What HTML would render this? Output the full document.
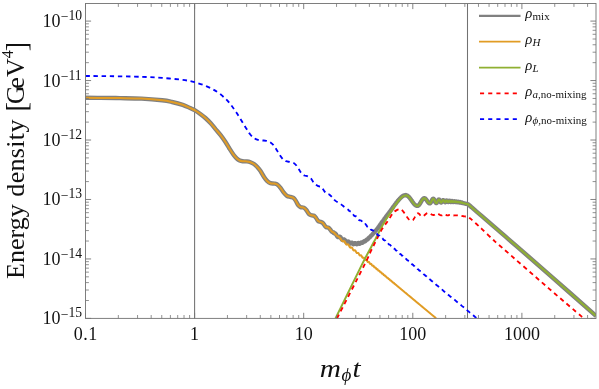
<!DOCTYPE html>
<html>
<head>
<meta charset="utf-8">
<title>Energy density</title>
<style>
html,body{margin:0;padding:0;background:#fff;}
body{width:599px;height:389px;overflow:hidden;font-family:"Liberation Serif",serif;}
svg{display:block;will-change:transform;}
text{font-family:"Liberation Serif",serif;fill:#111;}
.tk{font-size:18px;}
.sup{font-size:13.6px;}
.it{font-style:italic;}
.lg{font-size:14.6px;font-style:italic;}
.sb{font-size:11px;font-style:normal;}
.sbi{font-size:11px;font-style:italic;}
</style>
</head>
<body>
<svg width="599" height="389" viewBox="0 0 599 389">
<rect x="0" y="0" width="599" height="389" fill="#ffffff"/>
<defs><clipPath id="cp"><rect x="85.5" y="3.5" width="510.5" height="314.9"/></clipPath></defs>

<!-- vertical marker lines -->
<path d="M194.60 3.5V318.4M467.50 3.5V318.4" stroke="#727272" stroke-width="1.05" fill="none"/>

<!-- curves -->
<g clip-path="url(#cp)" fill="none" stroke-linejoin="round">
<path d="M85.50 97.80C87.92 97.82 94.25 97.85 100.00 97.90C105.75 97.95 113.07 97.98 120.00 98.10C126.93 98.22 134.57 98.23 141.60 98.60C148.63 98.97 157.13 99.73 162.20 100.30C167.27 100.87 168.58 101.25 172.00 102.00C175.42 102.75 179.70 103.80 182.70 104.80C185.70 105.80 188.02 107.12 190.00 108.00C191.98 108.88 192.88 109.12 194.60 110.10C196.32 111.08 198.50 112.58 200.30 113.90C202.10 115.22 203.70 116.47 205.40 118.00C207.10 119.53 208.78 121.22 210.50 123.10C212.22 124.98 213.98 127.25 215.70 129.30C217.42 131.35 219.20 133.32 220.80 135.40C222.40 137.48 223.87 139.62 225.30 141.80C226.73 143.98 228.03 146.35 229.40 148.50C230.77 150.65 232.30 153.07 233.50 154.70C234.70 156.33 235.57 157.33 236.60 158.30C237.63 159.27 238.68 160.00 239.70 160.50C240.72 161.00 241.50 161.15 242.70 161.30C243.90 161.45 245.62 161.25 246.90 161.40C248.18 161.55 249.22 161.77 250.40 162.20C251.58 162.63 252.82 163.17 254.00 164.00C255.18 164.83 256.42 166.03 257.50 167.20C258.58 168.37 259.38 169.32 260.50 171.00C261.62 172.68 263.07 175.60 264.20 177.30C265.33 179.00 266.27 180.22 267.30 181.20C268.33 182.18 269.20 182.80 270.40 183.20C271.60 183.60 273.30 183.35 274.50 183.60C275.70 183.85 276.57 183.95 277.60 184.70C278.63 185.45 279.67 186.77 280.70 188.10C281.73 189.43 282.77 191.42 283.80 192.70C284.83 193.98 285.80 195.10 286.90 195.80C288.00 196.50 289.33 196.57 290.40 196.90C291.47 197.23 292.42 197.18 293.30 197.80C294.18 198.42 294.88 199.37 295.70 200.60C296.52 201.83 297.37 204.10 298.20 205.20C299.03 206.30 299.78 206.80 300.70 207.20C301.62 207.60 302.77 207.13 303.70 207.60C304.63 208.07 305.43 208.95 306.30 210.00C307.17 211.05 308.05 213.02 308.90 213.90C309.75 214.78 310.55 215.00 311.40 215.30C312.25 215.60 313.22 215.25 314.00 215.70C314.78 216.15 315.42 217.12 316.10 218.00C316.78 218.88 317.33 220.35 318.10 221.00C318.87 221.65 319.93 221.60 320.70 221.90C321.47 222.20 322.02 222.17 322.70 222.80C323.38 223.43 324.20 224.97 324.80 225.70C325.40 226.43 325.70 226.88 326.30 227.20C326.90 227.52 327.72 227.17 328.40 227.60C329.08 228.03 329.80 229.10 330.40 229.80C331.00 230.50 331.48 231.37 332.00 231.80C332.52 232.23 333.25 232.30 333.50 232.40L333.50 232.94L333.53 232.95L333.57 232.97L333.60 232.99L333.63 233.01L333.67 233.03L333.70 233.06L333.74 233.08L333.78 233.11L333.82 233.13L333.87 233.16L333.92 233.18L333.97 233.20L334.03 233.22L334.10 233.24L334.17 233.25L334.24 233.27L334.32 233.28L334.41 233.29L334.50 233.30L334.61 233.31L334.72 233.33L334.84 233.35L334.96 233.39L335.10 233.44L335.25 233.53L335.41 233.64L335.58 233.80L335.76 234.00L335.95 234.25L336.15 234.55L336.36 234.89L336.57 235.26L336.79 235.64L337.02 236.01L337.25 236.36L337.48 236.65L337.72 236.88L337.96 237.02L338.20 237.09L338.44 237.09L338.68 237.02L338.92 236.93L339.16 236.83L339.40 236.75L339.63 236.72L339.86 236.75L340.08 236.86L340.30 237.03L340.51 237.28L340.73 237.58L340.94 237.93L341.16 238.31L341.37 238.69L341.58 239.05L341.79 239.38L342.01 239.64L342.22 239.84L342.43 239.96L342.64 240.00L342.86 239.97L343.07 239.89L343.28 239.77L343.49 239.65L343.70 239.54L343.92 239.47L344.13 239.46L344.34 239.53L344.55 239.68L344.76 239.91L344.98 240.21L345.19 240.56L345.40 240.93L345.61 241.30L345.82 241.64L346.04 241.91L346.25 242.11L346.46 242.22L346.67 242.23L346.88 242.16L347.10 242.02L347.31 241.85L347.52 241.67L347.73 241.51L347.94 241.42L348.16 241.41L348.37 241.50L348.58 241.68L348.79 241.94L349.01 242.27L349.22 242.62L349.43 242.97L349.64 243.27L349.86 243.49L350.07 243.62L350.29 243.64L350.50 243.56L350.71 243.40L350.93 243.19L351.15 242.97L351.36 242.78L351.58 242.66L351.80 242.62L352.01 242.69L352.23 242.85L352.45 243.10L352.66 243.39L352.88 243.69L353.10 243.95L353.32 244.14L353.54 244.22L353.75 244.19L353.97 244.07L354.19 243.87L354.40 243.63L354.62 243.40L354.84 243.21L355.05 243.11L355.27 243.11L355.49 243.21L355.70 243.39L355.91 243.62L356.13 243.86L356.34 244.06L356.55 244.19L356.77 244.23L356.98 244.16L357.19 244.00L357.40 243.78L357.62 243.54L357.83 243.31L358.04 243.14L358.25 243.05L358.46 243.06L358.67 243.16L358.88 243.31L359.10 243.49L359.31 243.65L359.52 243.75L359.73 243.76L359.95 243.67L360.16 243.48L360.37 243.24L360.59 242.97L360.80 242.72L361.01 242.53L361.23 242.44L361.45 242.43L361.66 242.50L361.88 242.61L362.10 242.71L362.31 242.77L362.53 242.73L362.75 242.60L362.96 242.38L363.18 242.10L363.40 241.82L363.62 241.56L363.84 241.38L364.05 241.28L364.27 241.27L364.49 241.30L364.70 241.34L364.92 241.34L365.14 241.28L365.35 241.12L365.57 240.88L365.79 240.59L366.00 240.30L366.21 240.03L366.43 239.82L366.64 239.69L366.85 239.61L367.06 239.58L367.27 239.54L367.48 239.46L367.69 239.31L367.90 239.09L368.11 238.82L368.32 238.51L368.53 238.21L368.74 237.94L368.95 237.73L369.16 237.58L369.37 237.47L369.59 237.36L369.80 237.24L370.01 237.07L370.23 236.83L370.44 236.55L370.66 236.24L370.88 235.94L371.10 235.67L371.32 235.44L371.55 235.26L371.78 235.10L372.02 234.91L372.26 234.69L372.50 234.41L372.74 234.09L372.98 233.76L373.23 233.45L373.47 233.18L373.71 232.94L373.96 232.70L374.20 232.43L374.44 232.15L374.67 231.88L374.91 231.61L375.14 231.34L375.36 231.07L375.58 230.81L375.80 230.56L376.01 230.31L376.21 230.07L376.41 229.83L376.60 229.60L376.78 229.38L376.96 229.16L377.13 228.95L377.29 228.74L377.45 228.53L377.60 228.33L377.75 228.14L377.90 227.94L378.04 227.75L378.18 227.56L378.31 227.37L378.44 227.19L378.57 227.00L378.70 226.82L378.83 226.64L378.96 226.46L379.09 226.28L379.21 226.10L379.34 225.92L379.47 225.74L379.60 225.55L379.73 225.37L379.86 225.19L380.00 225.00L380.14 224.81L380.27 224.63L380.40 224.45L380.54 224.27L380.67 224.09L380.80 223.91L380.93 223.73L381.06 223.55L381.18 223.37L381.31 223.20L381.44 223.02L381.57 222.84L381.70 222.67L381.83 222.49L381.96 222.31L382.09 222.13L382.22 221.94L382.36 221.76L382.49 221.57L382.63 221.38L382.77 221.19L382.91 221.00L383.05 220.80L383.20 220.60L383.35 220.40L383.50 220.19L383.66 219.98L383.81 219.76L383.97 219.55L384.13 219.33L384.29 219.11L384.46 218.89L384.62 218.66L384.79 218.44L384.95 218.21L385.12 217.98L385.29 217.75L385.45 217.53L385.62 217.30L385.79 217.07L385.96 216.84L386.12 216.62L386.29 216.39L386.45 216.17L386.62 215.95L386.78 215.73L386.94 215.51L387.10 215.30L387.26 215.09L387.41 214.88L387.57 214.68L387.72 214.47L387.87 214.27L388.02 214.08L388.17 213.88L388.32 213.68L388.47 213.49L388.62 213.29L388.77 213.10L388.92 212.90L389.07 212.70L389.22 212.51L389.37 212.31L389.52 212.11L389.68 211.90L389.83 211.70L389.99 211.49L390.15 211.28L390.31 211.07L390.47 210.85L390.63 210.63L390.80 210.40L390.97 210.17L391.14 209.93L391.32 209.69L391.50 209.44L391.68 209.19L391.86 208.94L392.04 208.68L392.23 208.42L392.41 208.16L392.60 207.89L392.79 207.63L392.97 207.36L393.16 207.10L393.35 206.83L393.54 206.57L393.73 206.30L393.92 206.04L394.10 205.78L394.29 205.53L394.48 205.27L394.66 205.02L394.84 204.78L395.02 204.54L395.20 204.30L395.38 204.07L395.55 203.83L395.73 203.60L395.91 203.37L396.08 203.14L396.26 202.91L396.44 202.68L396.61 202.46L396.79 202.23L396.96 202.01L397.13 201.79L397.31 201.57L397.48 201.35L397.65 201.14L397.82 200.93L397.99 200.72L398.16 200.52L398.32 200.32L398.49 200.12L398.65 199.93L398.82 199.74L398.98 199.56L399.14 199.38L399.30 199.20L399.46 199.03L399.61 198.86L399.77 198.69L399.92 198.53L400.08 198.37L400.23 198.21L400.38 198.06L400.53 197.91L400.68 197.76L400.83 197.62L400.97 197.48L401.12 197.34L401.26 197.21L401.41 197.08L401.55 196.96L401.69 196.83L401.83 196.72L401.97 196.60L402.11 196.49L402.25 196.38L402.39 196.28L402.53 196.18L402.66 196.09L402.80 196.00L402.94 195.92L403.08 195.84L403.22 195.76L403.36 195.69L403.51 195.63L403.66 195.57L403.80 195.52L403.95 195.47L404.09 195.42L404.24 195.38L404.38 195.34L404.52 195.30L404.66 195.27L404.79 195.23L404.92 195.21L405.04 195.18L405.16 195.15L405.27 195.13L405.38 195.11L405.48 195.08L405.57 195.06L405.66 195.04L405.73 195.02L405.80 195.00L406.19 195.32L406.49 195.37L406.78 195.45L407.08 195.57L407.37 195.72L407.67 195.91L407.96 196.12L408.26 196.36L408.55 196.63L408.85 196.93L409.14 197.25L409.44 197.59L409.73 197.95L410.03 198.33L410.32 198.72L410.62 199.13L410.91 199.54L411.21 199.96L411.50 200.39L411.80 200.81L412.09 201.24L412.39 201.66L412.68 202.07L412.98 202.48L413.27 202.87L413.57 203.25L413.86 203.61L414.16 203.95L414.45 204.27L414.75 204.57L415.04 204.84L415.34 205.08L415.63 205.29L415.93 205.48L416.22 205.63L416.52 205.75L416.81 205.83L417.11 205.88L417.40 205.90L417.69 205.87L417.97 205.77L418.26 205.61L418.55 205.38L418.84 205.10L419.12 204.77L419.41 204.39L419.70 203.98L419.99 203.52L420.27 203.05L420.56 202.55L420.85 202.05L421.14 201.55L421.43 201.05L421.71 200.58L422.00 200.12L422.29 199.71L422.57 199.33L422.86 199.00L423.15 198.72L423.44 198.49L423.73 198.33L424.01 198.23L424.30 198.20L424.59 198.24L424.88 198.34L425.17 198.51L425.46 198.75L425.75 199.04L426.04 199.38L426.33 199.76L426.62 200.16L426.91 200.59L427.19 201.01L427.48 201.44L427.77 201.84L428.06 202.22L428.35 202.56L428.64 202.85L428.93 203.09L429.22 203.26L429.51 203.36L429.80 203.40L430.09 203.32L430.38 203.09L430.68 202.72L430.97 202.24L431.26 201.67L431.55 201.07L431.84 200.47L432.13 199.91L432.43 199.42L432.72 199.05L433.01 198.82L433.30 198.74L433.60 198.85L433.90 199.16L434.20 199.65L434.50 200.27L434.80 200.95L435.10 201.63L435.40 202.25L435.70 202.74L436.00 203.05L436.30 203.16L436.59 203.05L436.88 202.73L437.17 202.24L437.46 201.64L437.74 201.00L438.03 200.40L438.32 199.91L438.61 199.59L438.90 199.48L439.19 199.60L439.47 199.93L439.76 200.43L440.05 201.02L440.34 201.61L440.62 202.11L440.91 202.44L441.20 202.56L441.49 202.44L441.77 202.10L442.06 201.60L442.34 201.06L442.63 200.57L442.91 200.23L443.20 200.10L443.47 200.21L443.74 200.51L444.01 200.94L444.29 201.41L444.56 201.84L444.83 202.14L445.10 202.24L445.40 202.07L445.70 201.63L446.00 201.08L446.30 200.64L446.60 200.47L446.87 200.58L447.13 200.87L447.40 201.27L447.67 201.67L447.93 201.96L448.20 202.07L448.46 201.94L448.72 201.60L448.98 201.17L449.24 200.83L449.50 200.70L449.76 200.83L450.02 201.16L450.28 201.58L450.54 201.91L450.80 202.04L451.10 201.88L451.40 201.49L451.70 201.10L452.00 200.94L452.30 201.10L452.60 201.47L452.90 201.85L453.20 202.01L453.48 201.89L453.75 201.60L454.02 201.30L454.30 201.18L454.57 201.32L454.85 201.65L455.12 201.98L455.40 202.12L455.65 202.01L455.90 201.77L456.15 201.53L456.40 201.43L456.65 201.54L456.90 201.83L457.15 202.11L457.40 202.23L457.65 202.16L457.90 202.02L458.15 201.87L458.40 201.81L458.62 201.91L458.85 202.14L459.07 202.38L459.30 202.47L459.60 202.37L459.90 202.16L460.20 202.06L460.47 202.22L460.73 202.56L461.00 202.72L461.27 202.65L461.53 202.51L461.80 202.44L462.07 202.61L462.33 202.94L462.60 203.11L462.89 203.11L463.18 203.14L463.46 203.17L463.75 203.22L464.04 203.28L464.33 203.35L464.62 203.43L464.91 203.51L465.19 203.59L465.48 203.68L465.77 203.75L466.06 203.82L466.35 203.88L466.64 203.93L466.92 203.97L467.21 203.99L467.50 204.00C467.75 204.17 468.35 204.48 469.00 205.00C469.65 205.52 470.32 206.15 471.40 207.10C472.48 208.05 473.70 209.15 475.50 210.70C477.30 212.25 477.67 212.48 482.20 216.40C486.73 220.32 496.88 229.17 502.70 234.20C508.52 239.23 509.22 239.75 517.10 246.60C524.98 253.45 536.85 263.75 550.00 275.30C563.15 286.85 588.33 309.13 596.00 315.90" stroke="#808080" stroke-width="4.4"/>
<path d="M85.50 97.80C87.92 97.82 94.25 97.85 100.00 97.90C105.75 97.95 113.07 97.98 120.00 98.10C126.93 98.22 134.57 98.23 141.60 98.60C148.63 98.97 157.13 99.73 162.20 100.30C167.27 100.87 168.58 101.25 172.00 102.00C175.42 102.75 179.70 103.80 182.70 104.80C185.70 105.80 188.02 107.12 190.00 108.00C191.98 108.88 192.88 109.12 194.60 110.10C196.32 111.08 198.50 112.58 200.30 113.90C202.10 115.22 203.70 116.47 205.40 118.00C207.10 119.53 208.78 121.22 210.50 123.10C212.22 124.98 213.98 127.25 215.70 129.30C217.42 131.35 219.20 133.32 220.80 135.40C222.40 137.48 223.87 139.62 225.30 141.80C226.73 143.98 228.03 146.35 229.40 148.50C230.77 150.65 232.30 153.07 233.50 154.70C234.70 156.33 235.57 157.33 236.60 158.30C237.63 159.27 238.68 160.00 239.70 160.50C240.72 161.00 241.50 161.15 242.70 161.30C243.90 161.45 245.62 161.25 246.90 161.40C248.18 161.55 249.22 161.77 250.40 162.20C251.58 162.63 252.82 163.17 254.00 164.00C255.18 164.83 256.42 166.03 257.50 167.20C258.58 168.37 259.38 169.32 260.50 171.00C261.62 172.68 263.07 175.60 264.20 177.30C265.33 179.00 266.27 180.22 267.30 181.20C268.33 182.18 269.20 182.80 270.40 183.20C271.60 183.60 273.30 183.35 274.50 183.60C275.70 183.85 276.57 183.95 277.60 184.70C278.63 185.45 279.67 186.77 280.70 188.10C281.73 189.43 282.77 191.42 283.80 192.70C284.83 193.98 285.80 195.10 286.90 195.80C288.00 196.50 289.33 196.57 290.40 196.90C291.47 197.23 292.42 197.18 293.30 197.80C294.18 198.42 294.88 199.37 295.70 200.60C296.52 201.83 297.37 204.10 298.20 205.20C299.03 206.30 299.78 206.80 300.70 207.20C301.62 207.60 302.77 207.13 303.70 207.60C304.63 208.07 305.43 208.95 306.30 210.00C307.17 211.05 308.05 213.02 308.90 213.90C309.75 214.78 310.55 215.00 311.40 215.30C312.25 215.60 313.22 215.25 314.00 215.70C314.78 216.15 315.42 217.12 316.10 218.00C316.78 218.88 317.33 220.35 318.10 221.00C318.87 221.65 319.93 221.60 320.70 221.90C321.47 222.20 322.02 222.17 322.70 222.80C323.38 223.43 324.20 224.97 324.80 225.70C325.40 226.43 325.70 226.88 326.30 227.20C326.90 227.52 327.72 227.17 328.40 227.60C329.08 228.03 329.80 229.10 330.40 229.80C331.00 230.50 331.48 231.37 332.00 231.80C332.52 232.23 332.90 231.97 333.50 232.40C334.10 232.83 335.00 233.80 335.60 234.40C336.20 235.00 336.58 235.60 337.10 236.00C337.62 236.40 338.02 236.23 338.70 236.80C339.38 237.37 340.78 238.97 341.20 239.40L341.40 239.81L341.60 240.19L341.80 240.54L342.00 240.83L342.20 241.06L342.40 241.22L342.60 241.30L342.80 241.32L343.00 241.29L343.20 241.23L343.40 241.15L343.60 241.08L343.80 241.03L344.00 241.04L344.20 241.11L344.40 241.25L344.60 241.47L344.80 241.76L345.00 242.11L345.20 242.51L345.40 242.92L345.60 243.33L345.80 243.71L346.00 244.04L346.20 244.31L346.40 244.50L346.60 244.61L346.80 244.64L347.00 244.61L347.20 244.54L347.40 244.46L347.60 244.39L347.80 244.35L348.00 244.37L348.20 244.47L348.40 244.65L348.60 244.91L348.80 245.24L349.00 245.63L349.20 246.05L349.40 246.46L349.60 246.85L349.80 247.18L350.00 247.43L350.20 247.59L350.40 247.67L350.60 247.67L350.80 247.62L351.00 247.53L351.20 247.45L351.40 247.40L351.60 247.41L351.80 247.51L352.00 247.69L352.20 247.97L352.40 248.32L352.60 248.72L352.80 249.14L353.00 249.54L353.20 249.90L353.40 250.19L353.60 250.38L353.80 250.47L354.00 250.48L354.20 250.43L354.40 250.34L354.60 250.26L354.80 250.22L355.00 250.25L355.20 250.37L355.40 250.59L355.60 250.91L355.80 251.29L356.00 251.71L356.20 252.13L356.40 252.50L356.60 252.80L356.80 252.99L357.00 253.09L357.20 253.09L357.40 253.03L357.60 252.94L357.80 252.86L358.00 252.85L358.20 252.92L358.40 253.09L358.60 253.37L358.80 253.73L359.00 254.15L359.20 254.57L359.40 254.95L359.60 255.25L359.80 255.44L360.00 255.53L360.20 255.52L360.40 255.45L360.60 255.36L360.80 255.30L361.00 255.32L361.20 255.44L361.40 255.67L361.60 256.00L361.80 256.41L362.00 256.83L362.20 257.22L362.40 257.53L362.60 257.73L362.80 257.82L363.00 257.81L363.20 257.73L363.40 257.65L363.60 257.61L363.80 257.65L364.00 257.81L364.20 258.09L364.40 258.47L364.60 258.88L364.80 259.29L365.00 259.63L365.20 259.86L365.40 259.97L365.60 259.97L365.80 259.90L366.00 259.81L366.20 259.78L366.40 259.84L366.60 260.02L366.80 260.32L367.00 260.71L367.20 261.13L367.40 261.51L367.60 261.80L367.80 261.97L368.00 262.01L368.20 261.97L368.40 261.89L368.60 261.83L368.80 261.87L369.00 262.04L369.20 262.33L369.40 262.71L369.60 263.12L369.80 263.50L370.00 263.77L370.20 263.92L370.40 263.94L370.60 263.88L370.80 263.80L371.00 263.79L371.20 263.88L371.40 264.11L371.60 264.45L371.80 264.86L372.00 265.25L372.20 265.55L372.40 265.73L372.60 265.77L372.80 265.73L373.00 265.66L373.20 265.64L373.40 265.74L373.60 265.98L373.80 266.32L374.00 266.72L374.20 267.10L374.40 267.37L374.60 267.50L374.80 267.51L375.00 267.45L375.20 267.40L375.40 267.44L375.60 267.62L375.80 267.92L376.00 268.31L376.20 268.69L376.40 268.99L376.60 269.15L376.80 269.19L377.00 269.14L377.20 269.09L377.40 269.13L377.60 269.31L377.80 269.62L378.00 270.00L378.20 270.36L378.40 270.64L378.60 270.77L378.80 270.78L379.00 270.73L379.20 270.71L379.40 270.81L379.60 271.04L379.80 271.39L380.00 271.77L380.20 272.08L380.40 272.27L380.60 272.32L380.80 272.28L381.00 272.26L381.20 272.33L381.40 272.54L381.60 272.87L381.80 273.24L382.00 273.55L382.20 273.74L382.40 273.79L382.60 273.76L382.80 273.75L383.00 273.85L383.20 274.08L383.40 274.43L383.60 274.78L383.80 275.05L384.00 275.18L384.20 275.20L384.40 275.17L384.60 275.21L384.80 275.39L385.00 275.68L385.20 276.03L385.40 276.34L385.60 276.51L385.80 276.56L386.00 276.55L386.20 276.58L386.40 276.73L386.60 277.00L386.80 277.34L387.00 277.64L387.20 277.82L387.40 277.88L387.60 277.88L387.80 277.92L388.00 278.08L388.20 278.37L388.40 278.69L388.60 278.97L388.80 279.11L389.00 279.15L389.20 279.17L389.40 279.25L389.60 279.46L389.80 279.77L390.00 280.07L390.20 280.28L390.40 280.37L390.60 280.39L390.80 280.45L391.00 280.62L391.20 280.89L391.40 281.19L391.60 281.43L391.80 281.55L392.00 281.59L392.20 281.64L392.40 281.79L392.60 282.05L392.80 282.34L393.00 282.57L393.20 282.69L393.40 282.75L393.60 282.82L393.80 282.98L394.00 283.23L394.20 283.50L394.40 283.71L394.60 283.83L394.80 283.89L395.00 283.98L395.20 284.17L395.40 284.43L395.60 284.68L395.80 284.85L396.00 284.94L396.20 285.02L396.40 285.16L396.60 285.39L396.80 285.64L397.00 285.84L397.20 285.96L397.40 286.05L397.60 286.18L397.80 286.37L398.00 286.61L398.20 286.82L398.40 286.96L398.60 287.07L398.80 287.19L399.00 287.37L399.20 287.59L399.40 287.80L399.60 287.95L399.80 288.07L400.00 288.20L400.20 288.38L400.40 288.59L400.60 288.78L400.80 288.93L401.00 289.07L401.20 289.22L401.40 289.39L401.60 289.58L401.80 289.76L402.00 289.91L402.20 290.06L402.40 290.23L402.60 290.40L402.80 290.58L403.00 290.74L403.20 290.90L403.40 291.07L403.60 291.24L403.80 291.40L404.00 291.57L404.20 291.73L404.40 291.90L404.60 292.07L404.80 292.23L405.00 292.40L405.20 292.57L405.40 292.73L405.60 292.90L405.80 293.06L406.00 293.23L406.20 293.40L406.40 293.56L406.60 293.73L406.80 293.89L407.00 294.06L407.20 294.23L407.40 294.39L407.60 294.56L407.80 294.72L408.00 294.89L408.20 295.06L408.40 295.22L408.60 295.39L408.80 295.56L409.00 295.72L409.20 295.89L409.40 296.05L409.60 296.22L409.80 296.39L410.00 296.55L410.20 296.72L410.40 296.88L410.60 297.05L410.80 297.22L411.00 297.38L411.20 297.55L411.40 297.72L411.60 297.88L411.80 298.05L412.00 298.21L412.20 298.38L412.40 298.55L412.60 298.71L412.80 298.88L413.00 299.04L413.20 299.21L413.40 299.38L413.60 299.54L413.80 299.71L414.00 299.88L414.20 300.04L414.40 300.21L414.60 300.37L414.80 300.54L415.00 300.71L415.20 300.87L415.40 301.04L415.60 301.20L415.80 301.37L416.00 301.54L416.20 301.70L416.40 301.87L416.60 302.04L416.80 302.20L417.00 302.37L417.20 302.53L417.40 302.70L417.60 302.87L417.80 303.03L418.00 303.20L418.20 303.36L418.40 303.53L418.60 303.70L418.80 303.86L419.00 304.03L419.20 304.19L419.40 304.36L419.60 304.53L419.80 304.69L420.00 304.86L420.20 305.03L420.40 305.19L420.60 305.36L420.80 305.52L421.00 305.69L421.20 305.86L421.40 306.02L421.60 306.19L421.80 306.35L422.00 306.52L422.20 306.69L422.40 306.85L422.60 307.02L422.80 307.19L423.00 307.35L423.20 307.52L423.40 307.68L423.60 307.85L423.80 308.02L424.00 308.18L424.20 308.35L424.40 308.51L424.60 308.68L424.80 308.85L425.00 309.01L425.20 309.18L425.40 309.35L425.60 309.51L425.80 309.68L426.00 309.84L426.20 310.01L426.40 310.18L426.60 310.34L426.80 310.51L427.00 310.67L427.20 310.84L427.40 311.01L427.60 311.17L427.80 311.34L428.00 311.51L428.20 311.67L428.40 311.84L428.60 312.00L428.80 312.17L429.00 312.34L429.20 312.50L429.40 312.67L429.60 312.83L429.80 313.00L430.00 313.17L430.20 313.33L430.40 313.50L430.60 313.66L430.80 313.83L431.00 314.00L431.20 314.16L431.40 314.33L431.60 314.50L431.80 314.66L432.00 314.83L432.20 314.99L432.40 315.16L432.60 315.33L432.80 315.49L433.00 315.66L433.20 315.82L433.40 315.99L433.60 316.16L433.80 316.32L434.00 316.49L434.20 316.66L434.40 316.82L434.60 316.99L434.80 317.15L435.00 317.32L435.20 317.49L435.40 317.65L435.60 317.82L435.80 317.98L436.00 318.15L436.20 318.32" stroke="#E19C24" stroke-width="2.0"/>
<path d="M335.50 318.40C339.88 309.48 355.87 276.77 361.80 264.90C367.73 253.03 368.70 251.75 371.10 247.20C373.50 242.65 374.68 240.53 376.20 237.60C377.72 234.67 378.60 232.57 380.20 229.60C381.80 226.63 384.00 222.80 385.80 219.80C387.60 216.80 389.28 214.25 391.00 211.60C392.72 208.95 394.57 206.05 396.10 203.90C397.63 201.75 399.00 199.98 400.20 198.70C401.40 197.42 402.35 196.77 403.30 196.20C404.25 195.63 405.47 195.45 405.90 195.30L406.19 195.32L406.49 195.37L406.78 195.45L407.08 195.57L407.37 195.72L407.67 195.91L407.96 196.12L408.26 196.36L408.55 196.63L408.85 196.93L409.14 197.25L409.44 197.59L409.73 197.95L410.03 198.33L410.32 198.72L410.62 199.13L410.91 199.54L411.21 199.96L411.50 200.39L411.80 200.81L412.09 201.24L412.39 201.66L412.68 202.07L412.98 202.48L413.27 202.87L413.57 203.25L413.86 203.61L414.16 203.95L414.45 204.27L414.75 204.57L415.04 204.84L415.34 205.08L415.63 205.29L415.93 205.48L416.22 205.63L416.52 205.75L416.81 205.83L417.11 205.88L417.40 205.90L417.69 205.87L417.97 205.77L418.26 205.61L418.55 205.38L418.84 205.10L419.12 204.77L419.41 204.39L419.70 203.98L419.99 203.52L420.27 203.05L420.56 202.55L420.85 202.05L421.14 201.55L421.43 201.05L421.71 200.58L422.00 200.12L422.29 199.71L422.57 199.33L422.86 199.00L423.15 198.72L423.44 198.49L423.73 198.33L424.01 198.23L424.30 198.20L424.59 198.24L424.88 198.34L425.17 198.51L425.46 198.75L425.75 199.04L426.04 199.38L426.33 199.76L426.62 200.16L426.91 200.59L427.19 201.01L427.48 201.44L427.77 201.84L428.06 202.22L428.35 202.56L428.64 202.85L428.93 203.09L429.22 203.26L429.51 203.36L429.80 203.40L430.09 203.32L430.38 203.09L430.68 202.72L430.97 202.24L431.26 201.67L431.55 201.07L431.84 200.47L432.13 199.91L432.43 199.42L432.72 199.05L433.01 198.82L433.30 198.74L433.60 198.85L433.90 199.16L434.20 199.65L434.50 200.27L434.80 200.95L435.10 201.63L435.40 202.25L435.70 202.74L436.00 203.05L436.30 203.16L436.59 203.05L436.88 202.73L437.17 202.24L437.46 201.64L437.74 201.00L438.03 200.40L438.32 199.91L438.61 199.59L438.90 199.48L439.19 199.60L439.47 199.93L439.76 200.43L440.05 201.02L440.34 201.61L440.62 202.11L440.91 202.44L441.20 202.56L441.49 202.44L441.77 202.10L442.06 201.60L442.34 201.06L442.63 200.57L442.91 200.23L443.20 200.10L443.47 200.21L443.74 200.51L444.01 200.94L444.29 201.41L444.56 201.84L444.83 202.14L445.10 202.24L445.40 202.07L445.70 201.63L446.00 201.08L446.30 200.64L446.60 200.47L446.87 200.58L447.13 200.87L447.40 201.27L447.67 201.67L447.93 201.96L448.20 202.07L448.46 201.94L448.72 201.60L448.98 201.17L449.24 200.83L449.50 200.70L449.76 200.83L450.02 201.16L450.28 201.58L450.54 201.91L450.80 202.04L451.10 201.88L451.40 201.49L451.70 201.10L452.00 200.94L452.30 201.10L452.60 201.47L452.90 201.85L453.20 202.01L453.48 201.89L453.75 201.60L454.02 201.30L454.30 201.18L454.57 201.32L454.85 201.65L455.12 201.98L455.40 202.12L455.65 202.01L455.90 201.77L456.15 201.53L456.40 201.43L456.65 201.54L456.90 201.83L457.15 202.11L457.40 202.23L457.65 202.16L457.90 202.02L458.15 201.87L458.40 201.81L458.62 201.91L458.85 202.14L459.07 202.38L459.30 202.47L459.60 202.37L459.90 202.16L460.20 202.06L460.47 202.22L460.73 202.56L461.00 202.72L461.27 202.65L461.53 202.51L461.80 202.44L462.07 202.61L462.33 202.94L462.60 203.11L462.89 203.11L463.18 203.14L463.46 203.17L463.75 203.22L464.04 203.28L464.33 203.35L464.62 203.43L464.91 203.51L465.19 203.59L465.48 203.68L465.77 203.75L466.06 203.82L466.35 203.88L466.64 203.93L466.92 203.97L467.21 203.99L467.50 204.00C467.75 204.17 468.35 204.48 469.00 205.00C469.65 205.52 470.32 206.15 471.40 207.10C472.48 208.05 473.70 209.15 475.50 210.70C477.30 212.25 477.67 212.48 482.20 216.40C486.73 220.32 496.88 229.17 502.70 234.20C508.52 239.23 509.22 239.75 517.10 246.60C524.98 253.45 536.85 263.75 550.00 275.30C563.15 286.85 588.33 309.13 596.00 315.90" stroke="#8FB032" stroke-width="2.0"/>
<path d="M337.00 318.40C341.57 309.48 358.72 276.18 364.40 264.90C370.08 253.62 369.13 254.78 371.10 250.70C373.07 246.62 374.43 243.92 376.20 240.40C377.97 236.88 379.75 232.87 381.70 229.60C383.65 226.33 386.02 223.55 387.90 220.80C389.78 218.05 391.47 214.92 393.00 213.10C394.53 211.28 395.98 210.55 397.10 209.90C398.22 209.25 399.27 209.32 399.70 209.20L400.00 209.22L400.30 209.27L400.60 209.36L400.90 209.48L401.20 209.64L401.50 209.83L401.80 210.05L402.10 210.31L402.40 210.59L402.70 210.90L403.00 211.23L403.30 211.59L403.60 211.97L403.90 212.37L404.20 212.78L404.50 213.21L404.80 213.65L405.10 214.09L405.40 214.54L405.70 215.00L406.00 215.46L406.30 215.91L406.60 216.35L406.90 216.79L407.20 217.22L407.50 217.63L407.80 218.03L408.10 218.41L408.40 218.77L408.70 219.10L409.00 219.41L409.30 219.69L409.60 219.95L409.90 220.17L410.20 220.36L410.50 220.52L410.80 220.64L411.10 220.73L411.40 220.78L411.70 220.80L411.99 220.76L412.27 220.65L412.56 220.46L412.85 220.20L413.13 219.88L413.42 219.51L413.70 219.08L413.99 218.61L414.28 218.11L414.56 217.58L414.85 217.05L415.14 216.52L415.42 215.99L415.71 215.49L416.00 215.02L416.28 214.59L416.57 214.22L416.85 213.90L417.14 213.64L417.43 213.45L417.71 213.34L418.00 213.30L418.29 213.34L418.57 213.46L418.86 213.65L419.14 213.90L419.43 214.21L419.71 214.54L420.00 214.90L420.29 215.26L420.57 215.59L420.86 215.90L421.14 216.15L421.43 216.34L421.71 216.46L422.00 216.50L422.30 216.48L422.60 216.41L422.90 216.31L423.20 216.17L423.50 215.99L423.80 215.78L424.10 215.54L424.40 215.29L424.70 215.02L425.00 214.75L425.30 214.48L425.60 214.21L425.90 213.96L426.20 213.72L426.50 213.51L426.80 213.33L427.10 213.19L427.40 213.09L427.70 213.02L428.00 213.00L428.29 213.01L428.58 213.05L428.87 213.12L429.16 213.21L429.45 213.32L429.74 213.45L430.03 213.60L430.32 213.75L430.61 213.92L430.89 214.08L431.18 214.25L431.47 214.40L431.76 214.55L432.05 214.68L432.34 214.79L432.63 214.88L432.92 214.95L433.21 214.99L433.50 215.00L433.79 214.98L434.08 214.91L434.38 214.79L434.67 214.65L434.96 214.48L435.25 214.30L435.54 214.12L435.83 213.95L436.12 213.81L436.42 213.69L436.71 213.62L437.00 213.60L437.30 213.62L437.60 213.68L437.90 213.77L438.20 213.90L438.50 214.05L438.80 214.22L439.10 214.41L439.40 214.59L439.70 214.78L440.00 214.95L440.30 215.10L440.60 215.23L440.90 215.32L441.20 215.38L441.50 215.40L441.80 215.37L442.10 215.29L442.40 215.17L442.70 215.02L443.00 214.85L443.30 214.68L443.60 214.53L443.90 214.41L444.20 214.33L444.50 214.30L444.80 214.33L445.10 214.41L445.40 214.53L445.70 214.68L446.00 214.85L446.30 215.02L446.60 215.17L446.90 215.29L447.20 215.37L447.50 215.40L447.80 215.38L448.10 215.33L448.40 215.25L448.70 215.15L449.00 215.05L449.30 214.95L449.60 214.87L449.90 214.82L450.20 214.80L450.48 214.82L450.76 214.87L451.04 214.94L451.32 215.04L451.60 215.15L451.88 215.26L452.16 215.36L452.44 215.43L452.72 215.48L453.00 215.50L453.30 215.50L453.60 215.48L453.90 215.46L454.20 215.43L454.50 215.40L454.80 215.37L455.10 215.34L455.40 215.32L455.70 215.30L456.00 215.30L456.29 215.30L456.59 215.31L456.88 215.32L457.18 215.33L457.47 215.35L457.77 215.37L458.06 215.40L458.36 215.43L458.65 215.46L458.95 215.50L459.24 215.54L459.54 215.58L459.83 215.62L460.13 215.67L460.42 215.72L460.72 215.77L461.01 215.82L461.31 215.87L461.60 215.92L461.90 215.98L462.19 216.03L462.49 216.08L462.78 216.13L463.08 216.18L463.37 216.23L463.67 216.27L463.96 216.32L464.26 216.36L464.55 216.40L464.85 216.44L465.14 216.47L465.44 216.50L465.73 216.53L466.03 216.55L466.32 216.57L466.62 216.58L466.91 216.59L467.21 216.60L467.50 216.60C467.75 216.75 468.35 217.03 469.00 217.50C469.65 217.97 470.15 218.32 471.40 219.40C472.65 220.48 474.70 222.35 476.50 224.00C478.30 225.65 479.38 226.63 482.20 229.30C485.02 231.97 489.98 236.85 493.40 240.00C496.82 243.15 493.43 240.10 502.70 248.20C511.97 256.30 535.97 277.32 549.00 288.60C562.03 299.88 575.10 310.93 580.90 315.90C586.70 320.87 583.32 317.98 583.80 318.40" stroke="#ff0000" stroke-width="1.85" stroke-dasharray="4.4 3.7"/>
<path d="M85.50 76.00C89.58 76.03 100.65 76.07 110.00 76.20C119.35 76.33 132.90 76.52 141.60 76.80C150.30 77.08 155.35 77.38 162.20 77.90C169.05 78.42 177.30 79.18 182.70 79.90C188.10 80.62 190.60 81.13 194.60 82.20C198.60 83.27 202.97 84.70 206.70 86.30C210.43 87.90 213.88 89.75 217.00 91.80C220.12 93.85 223.05 96.38 225.40 98.60C227.75 100.82 229.30 102.82 231.10 105.10C232.90 107.38 234.48 109.73 236.20 112.30C237.92 114.87 239.68 117.75 241.40 120.50C243.12 123.25 245.08 126.55 246.50 128.80C247.92 131.05 248.73 132.52 249.90 134.00C251.07 135.48 252.28 136.77 253.50 137.70C254.72 138.63 255.82 139.15 257.20 139.60C258.58 140.05 260.27 140.20 261.80 140.40C263.33 140.60 265.03 140.50 266.40 140.80C267.77 141.10 268.80 141.45 270.00 142.20C271.20 142.95 272.48 144.02 273.60 145.30C274.72 146.58 275.67 148.28 276.70 149.90C277.73 151.52 278.77 153.47 279.80 155.00C280.83 156.53 281.87 158.07 282.90 159.10C283.93 160.13 284.80 160.72 286.00 161.20C287.20 161.68 288.82 161.70 290.10 162.00C291.38 162.30 292.60 162.37 293.70 163.00C294.80 163.63 295.77 164.65 296.70 165.80C297.63 166.95 298.52 168.67 299.30 169.90C300.08 171.13 300.55 172.27 301.40 173.20C302.25 174.13 303.30 174.97 304.40 175.50C305.50 176.03 306.88 175.87 308.00 176.40C309.12 176.93 310.08 177.57 311.10 178.70C312.12 179.83 313.00 182.00 314.10 183.20C315.20 184.40 316.50 185.25 317.70 185.90C318.90 186.55 320.35 186.47 321.30 187.10C322.25 187.73 322.62 188.68 323.40 189.70C324.18 190.72 325.03 192.42 326.00 193.20C326.97 193.98 328.18 193.73 329.20 194.40C330.22 195.07 331.10 196.17 332.10 197.20C333.10 198.23 333.83 199.48 335.20 200.60C336.57 201.72 338.75 202.83 340.30 203.90C341.85 204.97 343.12 206.00 344.50 207.00C345.88 208.00 347.92 209.42 348.60 209.90L348.60 210.24L348.83 210.48L349.07 210.70L349.32 210.89L349.57 211.06L349.83 211.20L350.10 211.30L350.37 211.38L350.65 211.46L350.94 211.55L351.24 211.68L351.54 211.88L351.84 212.16L352.15 212.57L352.47 213.09L352.79 213.66L353.12 214.25L353.45 214.82L353.79 215.33L354.13 215.73L354.47 216.02L354.82 216.18L355.17 216.25L355.53 216.26L355.89 216.29L356.25 216.39L356.62 216.62L356.98 216.99L357.35 217.50L357.73 218.12L358.10 218.77L358.48 219.38L358.87 219.88L359.26 220.22L359.66 220.38L360.07 220.41L360.49 220.39L360.91 220.46L361.33 220.71L361.76 221.18L362.20 221.84L362.64 222.59L363.08 223.25L363.53 223.72L363.98 223.93L364.43 223.96L364.88 223.94L365.33 224.06L365.78 224.44L366.24 225.07L366.69 225.82L367.14 226.51L367.59 226.98L368.04 227.16L368.49 227.17L368.93 227.17L369.37 227.37L369.81 227.83L370.25 228.51L370.68 229.23L371.10 229.79L371.52 230.09L371.93 230.16L372.34 230.14L372.74 230.21L373.14 230.50L373.54 231.02L373.93 231.67L374.32 232.28L374.71 232.71L375.09 232.90L375.48 232.91L375.86 232.90L376.25 233.05L376.64 233.44L377.03 234.03L377.42 234.68L377.81 235.19L378.20 235.45L378.60 235.48L379.01 235.48L379.42 235.66L379.83 236.13L380.25 236.82L380.68 237.48L381.11 237.86L381.55 237.93L382.00 237.94L382.46 238.22L382.92 238.88L383.40 239.67L383.88 240.18L384.37 240.28L384.87 240.33L385.37 240.76L385.87 241.59L386.38 242.30L386.90 242.53L387.42 242.55L387.94 242.98L388.47 243.85L389.00 244.53L389.54 244.67L390.09 244.79L390.63 245.48L391.19 246.37L391.74 246.72L392.31 246.77L392.87 247.36L393.44 248.30L394.02 248.67L394.60 248.75L395.18 249.44L395.77 250.34L396.36 250.54L396.96 250.79L397.56 251.73L398.16 252.31L398.77 252.38L399.38 253.15L400.00 253.96L400.62 254.05L401.25 254.70L401.89 255.59L402.54 255.69L403.19 256.45L403.85 257.22L404.51 257.36L405.18 258.34L405.86 258.77L406.54 259.22L407.23 260.17L407.91 260.32L408.61 261.33L409.30 261.65L410.00 262.37L410.70 263.02L411.40 263.46L412.11 264.33L412.81 264.61L413.51 265.58L414.22 265.81L414.92 266.80L415.63 267.03L416.33 268.01L417.03 268.25L417.73 269.19L418.43 269.48L419.12 270.35L419.81 270.72L420.50 271.45L421.19 271.98L421.87 272.51L422.56 273.27L423.24 273.59L423.93 274.49L424.62 274.78L425.30 275.54L425.99 276.13L426.68 276.53L427.36 277.39L428.05 277.76L428.74 278.35L429.43 279.14L430.11 279.47L430.80 280.11L431.49 280.88L432.17 281.25L432.86 281.81L433.55 282.60L434.24 283.10L434.92 283.50L435.61 284.19L436.30 284.91L436.98 285.39L437.67 285.82L438.36 286.44L439.04 287.16L439.73 287.77L440.41 288.24L441.10 288.71L441.79 289.26L442.48 289.91L443.18 290.56L443.88 291.19L444.58 291.79L445.29 292.36L446.00 292.93L446.71 293.50L447.42 294.07L448.14 294.66L448.85 295.24L449.56 295.84L450.27 296.43L450.98 297.01L451.69 297.57L452.39 298.11L453.09 298.63L453.79 299.14L454.48 299.67L455.16 300.25L455.84 300.85L456.52 301.47L457.18 302.05L457.84 302.57L458.49 303.04L459.13 303.50L459.77 304.01L460.39 304.56L461.00 305.12L461.60 305.66L462.20 306.17L462.80 306.62L463.40 307.05L464.01 307.54L464.62 308.12L465.22 308.69L465.83 309.14L466.43 309.57L467.03 310.13L467.62 310.70L468.21 311.13L468.79 311.56L469.36 312.12L469.93 312.64L470.48 313.03L471.02 313.45L471.55 313.96L472.07 314.45L472.57 314.86L473.06 315.21L473.52 315.58L473.97 315.95L474.41 316.32L474.82 316.68L475.21 317.00L475.58 317.31L475.92 317.62L476.24 317.95L476.53 318.23L476.80 318.36" stroke="#0000ff" stroke-width="1.85" stroke-dasharray="4.4 3.7"/>
</g>

<!-- frame + ticks -->
<rect x="85.5" y="3.5" width="510.5" height="314.9" fill="none" stroke="#787878" stroke-width="0.95"/>
<path d="M85.50 318.40L85.50 312.80M85.50 3.50L85.50 9.10M194.60 318.40L194.60 312.80M194.60 3.50L194.60 9.10M303.70 318.40L303.70 312.80M303.70 3.50L303.70 9.10M412.80 318.40L412.80 312.80M412.80 3.50L412.80 9.10M521.90 318.40L521.90 312.80M521.90 3.50L521.90 9.10M85.50 318.40L91.10 318.40M596.00 318.40L590.40 318.40M85.50 258.94L91.10 258.94M596.00 258.94L590.40 258.94M85.50 199.48L91.10 199.48M596.00 199.48L590.40 199.48M85.50 140.02L91.10 140.02M596.00 140.02L590.40 140.02M85.50 80.56L91.10 80.56M596.00 80.56L590.40 80.56M85.50 21.10L91.10 21.10M596.00 21.10L590.40 21.10" stroke="#747474" stroke-width="0.9" fill="none"/>
<path d="M118.34 318.40L118.34 315.00M118.34 3.50L118.34 6.90M137.55 318.40L137.55 315.00M137.55 3.50L137.55 6.90M151.18 318.40L151.18 315.00M151.18 3.50L151.18 6.90M161.76 318.40L161.76 315.00M161.76 3.50L161.76 6.90M170.40 318.40L170.40 315.00M170.40 3.50L170.40 6.90M177.70 318.40L177.70 315.00M177.70 3.50L177.70 6.90M184.03 318.40L184.03 315.00M184.03 3.50L184.03 6.90M189.61 318.40L189.61 315.00M189.61 3.50L189.61 6.90M227.44 318.40L227.44 315.00M227.44 3.50L227.44 6.90M246.65 318.40L246.65 315.00M246.65 3.50L246.65 6.90M260.28 318.40L260.28 315.00M260.28 3.50L260.28 6.90M270.86 318.40L270.86 315.00M270.86 3.50L270.86 6.90M279.50 318.40L279.50 315.00M279.50 3.50L279.50 6.90M286.80 318.40L286.80 315.00M286.80 3.50L286.80 6.90M293.13 318.40L293.13 315.00M293.13 3.50L293.13 6.90M298.71 318.40L298.71 315.00M298.71 3.50L298.71 6.90M336.54 318.40L336.54 315.00M336.54 3.50L336.54 6.90M355.75 318.40L355.75 315.00M355.75 3.50L355.75 6.90M369.38 318.40L369.38 315.00M369.38 3.50L369.38 6.90M379.96 318.40L379.96 315.00M379.96 3.50L379.96 6.90M388.60 318.40L388.60 315.00M388.60 3.50L388.60 6.90M395.90 318.40L395.90 315.00M395.90 3.50L395.90 6.90M402.23 318.40L402.23 315.00M402.23 3.50L402.23 6.90M407.81 318.40L407.81 315.00M407.81 3.50L407.81 6.90M445.64 318.40L445.64 315.00M445.64 3.50L445.64 6.90M464.85 318.40L464.85 315.00M464.85 3.50L464.85 6.90M478.48 318.40L478.48 315.00M478.48 3.50L478.48 6.90M489.06 318.40L489.06 315.00M489.06 3.50L489.06 6.90M497.70 318.40L497.70 315.00M497.70 3.50L497.70 6.90M505.00 318.40L505.00 315.00M505.00 3.50L505.00 6.90M511.33 318.40L511.33 315.00M511.33 3.50L511.33 6.90M516.91 318.40L516.91 315.00M516.91 3.50L516.91 6.90M554.74 318.40L554.74 315.00M554.74 3.50L554.74 6.90M573.95 318.40L573.95 315.00M573.95 3.50L573.95 6.90M587.58 318.40L587.58 315.00M587.58 3.50L587.58 6.90M85.50 300.50L88.90 300.50M596.00 300.50L592.60 300.50M85.50 290.03L88.90 290.03M596.00 290.03L592.60 290.03M85.50 282.60L88.90 282.60M596.00 282.60L592.60 282.60M85.50 276.84L88.90 276.84M596.00 276.84L592.60 276.84M85.50 272.13L88.90 272.13M596.00 272.13L592.60 272.13M85.50 268.15L88.90 268.15M596.00 268.15L592.60 268.15M85.50 264.70L88.90 264.70M596.00 264.70L592.60 264.70M85.50 261.66L88.90 261.66M596.00 261.66L592.60 261.66M85.50 241.04L88.90 241.04M596.00 241.04L592.60 241.04M85.50 230.57L88.90 230.57M596.00 230.57L592.60 230.57M85.50 223.14L88.90 223.14M596.00 223.14L592.60 223.14M85.50 217.38L88.90 217.38M596.00 217.38L592.60 217.38M85.50 212.67L88.90 212.67M596.00 212.67L592.60 212.67M85.50 208.69L88.90 208.69M596.00 208.69L592.60 208.69M85.50 205.24L88.90 205.24M596.00 205.24L592.60 205.24M85.50 202.20L88.90 202.20M596.00 202.20L592.60 202.20M85.50 181.58L88.90 181.58M596.00 181.58L592.60 181.58M85.50 171.11L88.90 171.11M596.00 171.11L592.60 171.11M85.50 163.68L88.90 163.68M596.00 163.68L592.60 163.68M85.50 157.92L88.90 157.92M596.00 157.92L592.60 157.92M85.50 153.21L88.90 153.21M596.00 153.21L592.60 153.21M85.50 149.23L88.90 149.23M596.00 149.23L592.60 149.23M85.50 145.78L88.90 145.78M596.00 145.78L592.60 145.78M85.50 142.74L88.90 142.74M596.00 142.74L592.60 142.74M85.50 122.12L88.90 122.12M596.00 122.12L592.60 122.12M85.50 111.65L88.90 111.65M596.00 111.65L592.60 111.65M85.50 104.22L88.90 104.22M596.00 104.22L592.60 104.22M85.50 98.46L88.90 98.46M596.00 98.46L592.60 98.46M85.50 93.75L88.90 93.75M596.00 93.75L592.60 93.75M85.50 89.77L88.90 89.77M596.00 89.77L592.60 89.77M85.50 86.32L88.90 86.32M596.00 86.32L592.60 86.32M85.50 83.28L88.90 83.28M596.00 83.28L592.60 83.28M85.50 62.66L88.90 62.66M596.00 62.66L592.60 62.66M85.50 52.19L88.90 52.19M596.00 52.19L592.60 52.19M85.50 44.76L88.90 44.76M596.00 44.76L592.60 44.76M85.50 39.00L88.90 39.00M596.00 39.00L592.60 39.00M85.50 34.29L88.90 34.29M596.00 34.29L592.60 34.29M85.50 30.31L88.90 30.31M596.00 30.31L592.60 30.31M85.50 26.86L88.90 26.86M596.00 26.86L592.60 26.86M85.50 23.82L88.90 23.82M596.00 23.82L592.60 23.82" stroke="#767676" stroke-width="0.8" fill="none"/>

<!-- tick labels -->
<text x="85.8" y="339.8" text-anchor="middle" class="tk" letter-spacing="0.6">0.1</text>
<text x="194.6" y="339.8" text-anchor="middle" class="tk">1</text>
<text x="303.7" y="339.8" text-anchor="middle" class="tk">10</text>
<text x="412.8" y="339.8" text-anchor="middle" class="tk">100</text>
<text x="521.9" y="339.8" text-anchor="middle" class="tk">1000</text>
<text x="60.6" y="324.3" text-anchor="end" class="tk">10</text><text x="60.8" y="317.3" class="sup"><tspan dy="1.3">−</tspan><tspan dy="-1.3">15</tspan></text>
<text x="60.6" y="264.8" text-anchor="end" class="tk">10</text><text x="60.8" y="257.8" class="sup"><tspan dy="1.3">−</tspan><tspan dy="-1.3">14</tspan></text>
<text x="60.6" y="205.4" text-anchor="end" class="tk">10</text><text x="60.8" y="198.4" class="sup"><tspan dy="1.3">−</tspan><tspan dy="-1.3">13</tspan></text>
<text x="60.6" y="145.9" text-anchor="end" class="tk">10</text><text x="60.8" y="138.9" class="sup"><tspan dy="1.3">−</tspan><tspan dy="-1.3">12</tspan></text>
<text x="60.6" y="86.5" text-anchor="end" class="tk">10</text><text x="60.8" y="79.5" class="sup"><tspan dy="1.3">−</tspan><tspan dy="-1.3">11</tspan></text>
<text x="60.6" y="27.0" text-anchor="end" class="tk">10</text><text x="60.8" y="20.0" class="sup"><tspan dy="1.3">−</tspan><tspan dy="-1.3">10</tspan></text>

<!-- axis labels -->
<g font-size="26" class="it"><text transform="translate(319.8 376.6) scale(1.13 1)">m</text><text x="341.4" y="380.7" font-size="19">ϕ</text><text transform="translate(352.6 376.6) scale(1.12 1)">t</text></g>
<g font-size="26">
<text transform="translate(24.3 279.0) rotate(-90)" letter-spacing="0.05">Energy</text>
<text transform="translate(24.3 196.7) rotate(-90)" letter-spacing="0.33">density</text>
<text transform="translate(24.3 109.3) rotate(-90)"><tspan x="-2.3" dy="1.5" font-size="28.5">[</tspan><tspan x="5.3" dy="-1.5">G</tspan><tspan x="20.6">e</tspan><tspan x="32.3">V</tspan><tspan x="51.0" dy="-11" font-size="16">4</tspan><tspan x="58.0" dy="12.5" font-size="28.5">]</tspan></text>
</g>

<!-- legend -->
<g fill="none">
<path d="M479 15.85H520.5" stroke="#808080" stroke-width="2.3"/>
<path d="M479 41.55H520.5" stroke="#E19C24" stroke-width="1.7"/>
<path d="M479 67.55H520.5" stroke="#8FB032" stroke-width="1.7"/>
<path d="M480 93.3H517.5" stroke="#ff0000" stroke-width="1.75" stroke-dasharray="4.1 4.09"/>
<path d="M480 119.1H517.5" stroke="#0000ff" stroke-width="1.75" stroke-dasharray="4.1 4.09"/>
</g>
<text x="525.2" y="18.0" class="lg">ρ<tspan class="sb" dy="1.9" dx="0.3">mix</tspan></text>
<text x="525.2" y="44.0" class="lg">ρ<tspan class="sbi" dy="1.9" dx="0.3">H</tspan></text>
<text x="525.2" y="69.9" class="lg">ρ<tspan class="sbi" dy="1.9" dx="0.3">L</tspan></text>
<text x="525.2" y="95.9" class="lg">ρ<tspan class="sbi" dy="1.9" dx="0.3">a</tspan><tspan class="sb">,no-mixing</tspan></text>
<text x="525.2" y="121.8" class="lg">ρ<tspan class="sbi" dy="1.9" dx="0.3">ϕ</tspan><tspan class="sb">,no-mixing</tspan></text>
</svg>
</body>
</html>
